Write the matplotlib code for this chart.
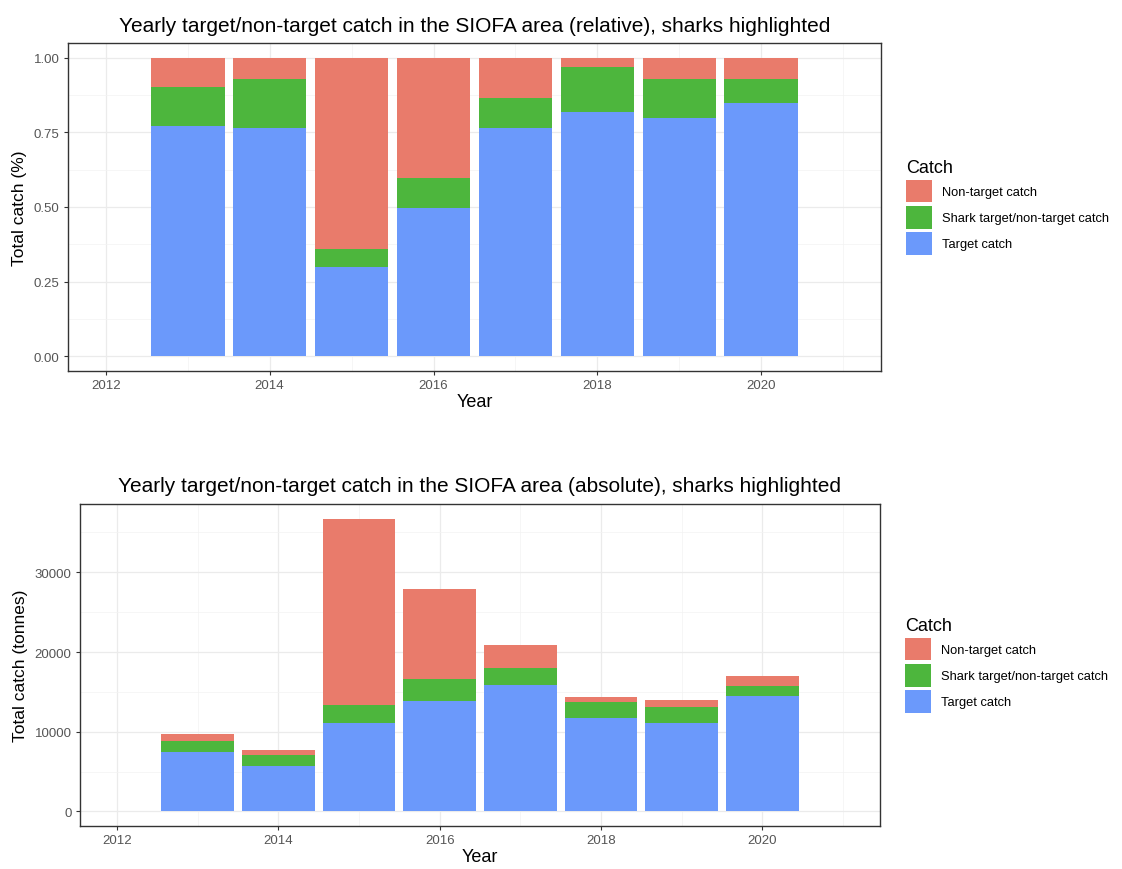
import matplotlib
matplotlib.use("Agg")
import matplotlib.pyplot as plt
import numpy as np
from matplotlib.patches import Patch
from matplotlib.ticker import FormatStrFormatter, MultipleLocator

plt.rcParams["font.family"] = ["Liberation Sans", "DejaVu Sans"]

years = [2013, 2014, 2015, 2016, 2017, 2018, 2019, 2020]

# relative shares
rel_target = [0.773, 0.764, 0.300, 0.497, 0.764, 0.820, 0.797, 0.850]
rel_shark = [0.131, 0.166, 0.060, 0.101, 0.101, 0.148, 0.133, 0.078]
rel_nontarget = [0.096, 0.070, 0.640, 0.402, 0.135, 0.032, 0.070, 0.072]

# absolute catch in tonnes
abs_target = [7490, 5730, 11090, 13810, 15820, 11720, 11090, 14520]
abs_shark = [1300, 1380, 2220, 2800, 2180, 2050, 1970, 1210]
abs_nontarget = [920, 540, 23430, 11300, 2890, 590, 880, 1300]

labels = ["Non-target catch", "Shark target/non-target catch", "Target catch"]
colors = {"Non-target catch": "#E97B6B",
          "Shark target/non-target catch": "#4DB63D",
          "Target catch": "#6B99FB"}

W, H = 1122, 870


def style_axes(ax):
    ax.set_facecolor("white")
    for s in ax.spines.values():
        s.set_color("#333333")
        s.set_linewidth(1.0)
    ax.grid(which="major", color="#EBEBEB", linewidth=0.9, zorder=0)
    ax.grid(which="minor", color="#F3F3F3", linewidth=0.5, zorder=0)
    ax.set_axisbelow(True)
    ax.tick_params(which="major", length=3, width=0.8, color="#333333",
                   labelsize=9.5, labelcolor="#555555", pad=3)
    ax.tick_params(which="minor", length=0)
    ax.xaxis.set_major_locator(MultipleLocator(2))
    ax.xaxis.set_minor_locator(MultipleLocator(1))
    ax.set_xlim(2011.54, 2021.46)
    ax.set_xlabel("Year", fontsize=13, labelpad=1)


def draw_panel(ax, target, shark, nontarget, title, ylabel):
    t = np.array(target)
    s = np.array(shark)
    n = np.array(nontarget)
    ax.bar(years, t, width=0.9, color=colors["Target catch"], zorder=2)
    ax.bar(years, s, width=0.9, bottom=t, color=colors["Shark target/non-target catch"], zorder=2)
    ax.bar(years, n, width=0.9, bottom=t + s, color=colors["Non-target catch"], zorder=2)
    style_axes(ax)
    ax.set_title(title, fontsize=15, pad=9)
    ax.set_ylabel(ylabel, fontsize=12.5, labelpad=5)
    handles = [Patch(facecolor=colors[l], edgecolor="none") for l in labels]
    ax.legend(handles, labels, title="Catch", loc="center left",
              bbox_to_anchor=(1.025, 0.5), frameon=False, fontsize=9.3,
              title_fontsize=13, handlelength=2.0, handleheight=2.35,
              labelspacing=0.25, handletextpad=0.78, borderaxespad=0,
              alignment="left")
    return ax


fig = plt.figure(figsize=(W / 100, H / 100), dpi=100)

ax1 = fig.add_axes([68 / W, 1 - 372 / H, 813 / W, 328 / H])
draw_panel(ax1, rel_target, rel_shark, rel_nontarget,
           "Yearly target/non-target catch in the SIOFA area (relative), sharks highlighted",
           "Total catch (%)")
ax1.set_ylim(-0.05, 1.05)
ax1.yaxis.set_major_locator(MultipleLocator(0.25))
ax1.yaxis.set_minor_locator(MultipleLocator(0.125))
ax1.yaxis.set_major_formatter(FormatStrFormatter("%.2f"))

ax2 = fig.add_axes([80 / W, 1 - 827 / H, 800 / W, 322 / H])
draw_panel(ax2, abs_target, abs_shark, abs_nontarget,
           "Yearly target/non-target catch in the SIOFA area (absolute), sharks highlighted",
           "Total catch (tonnes)")
top = max(np.array(abs_target) + np.array(abs_shark) + np.array(abs_nontarget))
ax2.set_ylim(-0.05 * top, 1.05 * top)
ax2.yaxis.set_major_locator(MultipleLocator(10000))
ax2.yaxis.set_minor_locator(MultipleLocator(5000))
ax2.yaxis.set_major_formatter(FormatStrFormatter("%d"))

fig.savefig("out.png", dpi=100, facecolor="white")
